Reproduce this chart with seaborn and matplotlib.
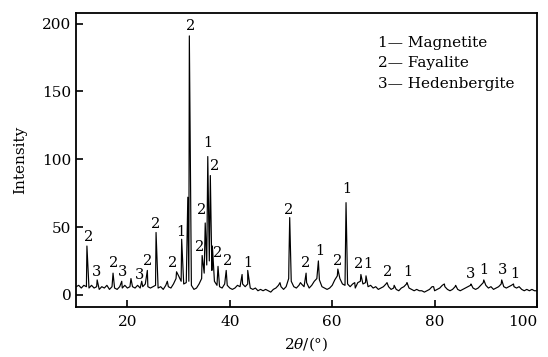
import numpy as np
import pandas as pd
import matplotlib
matplotlib.use("Agg")
import matplotlib.pyplot as plt
import seaborn as sns

# background every 0.5 deg from 10 to 100 (2theta)
base_theta = np.arange(10, 100.5, 0.5)
base_int = [
    6, 7, 5, 7, 6, 5, 7, 5, 6, 4, 6, 5, 7, 4, 6, 5, 4, 6, 5, 7,       # 10 - 19.5
    5, 6, 6, 5, 7, 5, 6, 8, 6, 5, 6, 7, 5, 6, 4, 7, 6, 5, 8, 12,      # 20 - 29.5
    14, 10, 8, 9, 10, 7, 4, 5, 8, 12, 16, 22, 25, 18, 10, 7, 6, 5, 8, 7,  # 30 - 39.5
    5, 4, 5, 7, 6, 8, 6, 8, 5, 4, 5, 3, 4, 3, 4, 3, 2, 4, 5, 7,       # 40 - 49.5
    6, 4, 6, 12, 10, 6, 5, 7, 8, 6, 9, 5, 7, 10, 12, 11, 6, 5, 4, 5,  # 50 - 59.5
    7, 11, 14, 12, 8, 7, 8, 6, 8, 5, 9, 10, 8, 9, 6, 7, 5, 6, 4, 5,   # 60 - 69.5
    6, 8, 6, 4, 5, 4, 3, 5, 6, 8, 5, 4, 3, 4, 3, 3, 2, 3, 4, 6,       # 70 - 79.5
    3, 4, 5, 7, 6, 4, 3, 4, 6, 4, 3, 4, 5, 6, 7, 5, 4, 5, 7, 9,       # 80 - 89.5
    7, 5, 6, 4, 5, 6, 8, 6, 5, 6, 7, 6, 5, 6, 4, 3, 4, 3, 4, 3,       # 90 - 99.5
    3,                                                                 # 100
]

# peak maxima
peak_theta = [12.1, 14.1, 17.2, 18.9, 20.7, 22.8, 23.9, 25.6, 27.8, 29.6,
              30.6, 31.8, 32.1, 34.6, 35.2, 35.7, 36.2, 36.6, 37.7, 39.3,
              42.4, 43.5, 49.8, 51.55, 51.7, 53.8, 54.9, 57.3, 61.1, 62.7,
              64.4, 65.6, 66.6, 70.7, 72.1, 74.6, 79.8, 81.9, 84.1, 87.1,
              89.6, 93.1, 95.4]
peak_int = [36, 11, 16, 10, 12, 10, 18, 46, 10, 17,
            41, 72, 191, 29, 53, 102, 88, 36, 21, 18,
            15, 18, 9, 25, 57, 9, 16, 25, 19, 68,
            9, 15, 14, 9, 7, 9, 6, 8, 7, 8,
            11, 11, 8]

# phase labels above the peaks
label_text = ["2", "3", "2", "3", "3", "2", "2", "2", "1", "2",
              "2", "2", "1", "2", "2", "2", "1", "2", "2", "1",
              "2", "1", "2", "1", "2", "1", "3", "1", "3", "1"]
label_theta = [12.4, 14.0, 17.3, 19.0, 22.4, 24.0, 25.6, 28.9, 30.5, 32.3,
               34.1, 34.5, 35.8, 37.0, 37.7, 39.6, 43.5, 51.5, 54.9, 57.5,
               61.0, 62.9, 65.1, 66.9, 70.8, 74.7, 87.1, 89.7, 93.2, 95.6]
label_int = [43, 17, 23.6, 17, 14.8, 25.3, 52.4, 23.6, 46.7, 198,
             35.6, 62.7, 112, 95, 31, 24.6, 23.6, 62.7, 23.4, 32,
             24.6, 78, 22.7, 22.7, 17.2, 16.5, 15.5, 18.5, 18, 15.5]

phases = ["1\u2014 Magnetite", "2\u2014 Fayalite", "3\u2014 Hedenbergite"]

df = pd.DataFrame({
    "theta": np.concatenate([base_theta, peak_theta]),
    "intensity": np.concatenate([base_int, peak_int]),
}).sort_values("theta")

sns.set_style("ticks")
plt.rcParams["font.family"] = ["DejaVu Serif"]
plt.rcParams["mathtext.fontset"] = "dejavuserif"
plt.rcParams["text.color"] = "black"
plt.rcParams["axes.labelcolor"] = "black"
plt.rcParams["xtick.color"] = "black"
plt.rcParams["ytick.color"] = "black"
plt.rcParams["axes.edgecolor"] = "black"

fig = plt.figure(figsize=(5.48, 3.57), dpi=100)
ax = fig.add_axes([0.139, 0.140, 0.841, 0.824])

sns.lineplot(data=df, x="theta", y="intensity", estimator=None, sort=True,
             color="black", linewidth=0.85, ax=ax)

for t, x, y in zip(label_text, label_theta, label_int):
    ax.text(x, y, t, ha="center", va="center", fontsize=10.5)

for i, p in enumerate(phases):
    ax.text(0.655, 0.899 - i * 0.0705, p, transform=ax.transAxes,
            ha="left", va="center", fontsize=11)

ax.set_xlim(10, 100)
ax.set_ylim(-9, 208)
ax.set_xticks([20, 40, 60, 80, 100])
ax.set_yticks([0, 50, 100, 150, 200])
ax.tick_params(direction="in", length=5, width=1.2, labelsize=11)
ax.tick_params(axis="x", pad=6)
ax.get_xticklabels()[-1].set_ha("right")
for s in ax.spines.values():
    s.set_linewidth(1.3)
ax.set_xlabel(r"$2\theta$/(°)", fontsize=11, labelpad=4)
ax.set_ylabel("Intensity", fontsize=11, labelpad=11)

fig.savefig("out.png", dpi=100)
